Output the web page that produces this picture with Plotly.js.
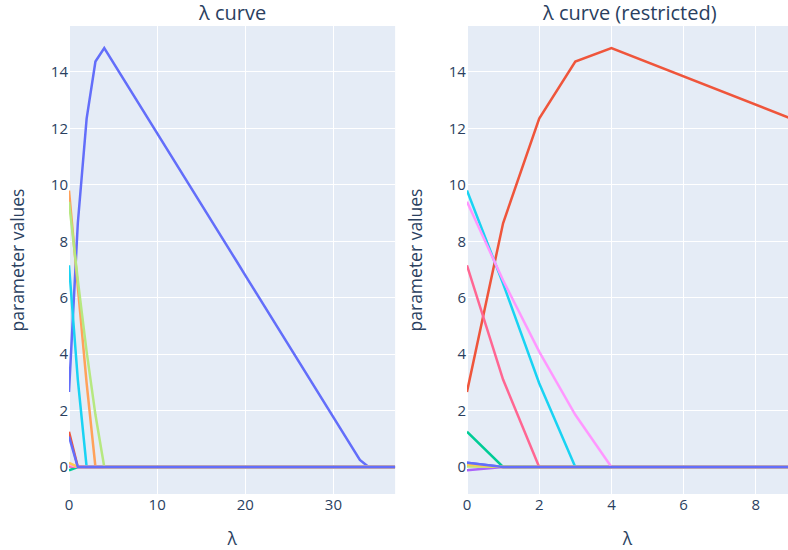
<!DOCTYPE html>
<html>
<head>
<meta charset="utf-8">
<script src="https://cdn.plot.ly/plotly-3.0.1.min.js"></script>
<style>html,body{margin:0;padding:0;background:#fff;}#chart{width:788px;height:550px;}</style>
</head>
<body>
<div id="chart"></div>
<script>
// λ grid (shared by both panels)
const lambdaValues = [0,1,2,3,4,5,6,7,8,9,10,11,12,13,14,15,16,17,18,19,20,21,22,23,24,25,26,27,28,29,30,31,32,33,34,35,36,37];

// Parameter paths
const pathMain   = [2.66,8.64,12.35,14.37,14.85,14.35,13.84,13.34,12.84,12.33,11.83,11.33,10.82,10.32,9.82,9.31,8.81,8.30,7.80,7.30,6.79,6.29,5.79,5.28,4.78,4.28,3.77,3.27,2.77,2.26,1.76,1.26,0.75,0.25,0,0,0,0];
const pathA      = [9.80,6.50,2.97,0,0,0,0,0,0,0,0,0,0,0,0,0,0,0,0,0,0,0,0,0,0,0,0,0,0,0,0,0,0,0,0,0,0,0];
const pathB      = [7.15,3.10,0,0,0,0,0,0,0,0,0,0,0,0,0,0,0,0,0,0,0,0,0,0,0,0,0,0,0,0,0,0,0,0,0,0,0,0];
const pathC      = [9.40,6.62,4.09,1.85,0,0,0,0,0,0,0,0,0,0,0,0,0,0,0,0,0,0,0,0,0,0,0,0,0,0,0,0,0,0,0,0,0,0];
const pathD      = [1.25,0,0,0,0,0,0,0,0,0,0,0,0,0,0,0,0,0,0,0,0,0,0,0,0,0,0,0,0,0,0,0,0,0,0,0,0,0];
const pathE      = [-0.12,0,0,0,0,0,0,0,0,0,0,0,0,0,0,0,0,0,0,0,0,0,0,0,0,0,0,0,0,0,0,0,0,0,0,0,0,0];
const pathF      = [0.04,0,0,0,0,0,0,0,0,0,0,0,0,0,0,0,0,0,0,0,0,0,0,0,0,0,0,0,0,0,0,0,0,0,0,0,0,0];
const pathG      = [0.02,0,0,0,0,0,0,0,0,0,0,0,0,0,0,0,0,0,0,0,0,0,0,0,0,0,0,0,0,0,0,0,0,0,0,0,0,0];
const pathH      = [0.08,0,0,0,0,0,0,0,0,0,0,0,0,0,0,0,0,0,0,0,0,0,0,0,0,0,0,0,0,0,0,0,0,0,0,0,0,0];
const pathI      = [0.15,0,0,0,0,0,0,0,0,0,0,0,0,0,0,0,0,0,0,0,0,0,0,0,0,0,0,0,0,0,0,0,0,0,0,0,0,0];
const pathJ      = [1.08,0,0,0,0,0,0,0,0,0,0,0,0,0,0,0,0,0,0,0,0,0,0,0,0,0,0,0,0,0,0,0,0,0,0,0,0,0];

// Trace order per panel (colours follow the default colorway)
const leftPaths  = [pathMain, pathD, pathE, pathF, pathA, pathB, pathG, pathC, pathH, pathI, pathJ];
const rightPaths = [pathI, pathMain, pathD, pathE, pathF, pathA, pathB, pathG, pathC, pathH, pathI];

const colorway = ['#636efa','#EF553B','#00cc96','#ab63fa','#FFA15A','#19d3f3','#FF6692','#B6E880','#FF97FF','#FECB52','#636efa'];

const titles = ['λ curve', 'λ curve (restricted)'];
const xTitle = 'λ';
const yTitle = 'parameter values';

const traces = [];
leftPaths.forEach((p, i) => traces.push({
  x: lambdaValues, y: p, type: 'scatter', mode: 'lines',
  line: {color: colorway[i], width: 2.5}, xaxis: 'x', yaxis: 'y', showlegend: false
}));
rightPaths.forEach((p, i) => traces.push({
  x: lambdaValues, y: p, type: 'scatter', mode: 'lines',
  line: {color: colorway[i], width: 2.5}, xaxis: 'x2', yaxis: 'y2', showlegend: false
}));

const axisCommon = {
  gridcolor: '#ffffff', gridwidth: 1, zerolinecolor: '#ffffff', zerolinewidth: 2.5,
  tickfont: {size: 15, color: '#2a3f5f'}, ticks: '', showline: false
};
const yRange = [-0.957, 15.63];

const layout = {
  width: 788, height: 550,
  margin: {l: 69, r: 0, t: 26, b: 56},
  paper_bgcolor: '#ffffff', plot_bgcolor: '#E5ECF6',
  font: {family: '"Open Sans", verdana, arial, sans-serif', size: 15, color: '#2a3f5f'},
  xaxis: Object.assign({}, axisCommon, {domain: [0, 0.4536], anchor: 'y', range: [0, 37], dtick: 10,
    title: {text: xTitle, font: {size: 17.5}}}),
  yaxis: Object.assign({}, axisCommon, {domain: [0, 1], anchor: 'x', range: yRange, dtick: 2,
    title: {text: yTitle, font: {size: 17.5}}}),
  xaxis2: Object.assign({}, axisCommon, {domain: [0.5535, 1], anchor: 'y2', range: [0, 8.89], dtick: 2,
    title: {text: xTitle, font: {size: 17.5}}}),
  yaxis2: Object.assign({}, axisCommon, {domain: [0, 1], anchor: 'x2', range: yRange, dtick: 2,
    title: {text: yTitle, font: {size: 17.5}}}),
  annotations: [
    {text: titles[0], xref: 'paper', yref: 'paper', x: 0.2268, y: 1, xanchor: 'center', yanchor: 'bottom',
     showarrow: false, borderpad: 0, yshift: -1, font: {size: 20, color: '#2a3f5f'}},
    {text: titles[1], xref: 'paper', yref: 'paper', x: 0.7800, y: 1, xanchor: 'center', yanchor: 'bottom',
     showarrow: false, borderpad: 0, yshift: -1, font: {size: 20, color: '#2a3f5f'}}
  ]
};

Plotly.newPlot('chart', traces, layout, {staticPlot: true, displayModeBar: false});
</script>
</body>
</html>
